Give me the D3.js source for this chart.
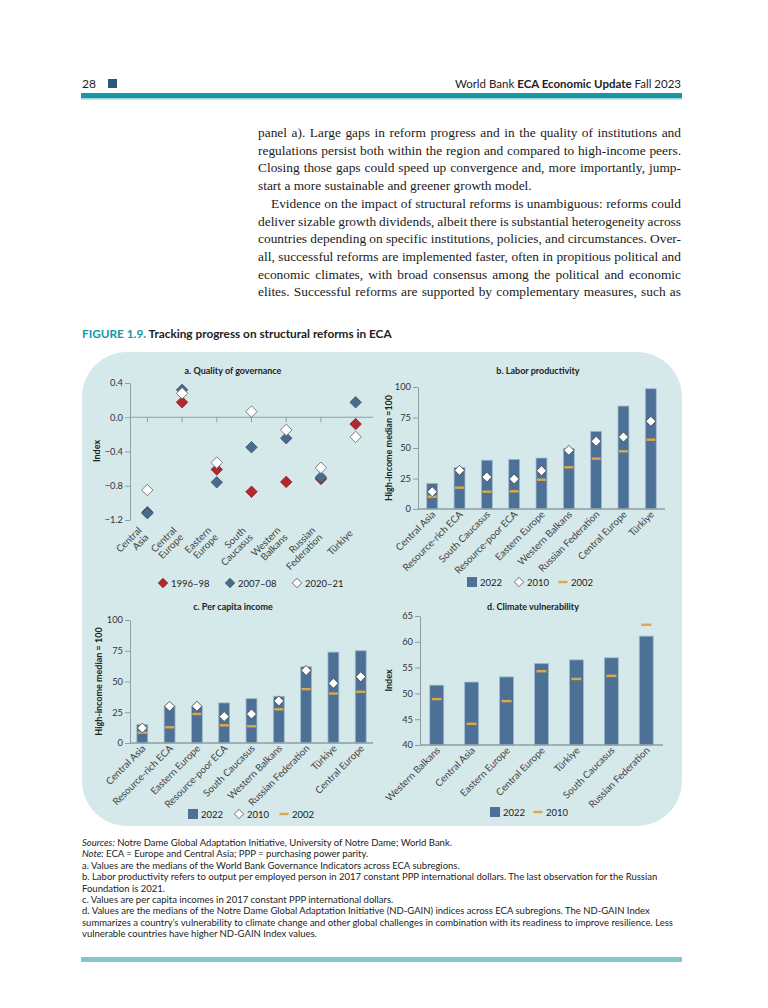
<!DOCTYPE html>
<html>
<head>
<meta charset="utf-8">
<script src="https://cdn.jsdelivr.net/npm/d3@7"></script>
<style>
  body { margin: 0; background: #fff; }
  svg { display: block; }
</style>
</head>
<body>
<svg id="page"></svg>
<script>
// ---- data ----
var govCategories = ["Central Asia", "Central Europe", "Eastern Europe", "South Caucasus", "Western Balkans", "Russian Federation", "Türkiye"];
var gov1996 = [-1.11, 0.175, -0.61, -0.87, -0.755, -0.72, -0.08];
var gov2007 = [-1.12, 0.32, -0.76, -0.35, -0.245, -0.70, 0.175];
var gov2020 = [-0.85, 0.28, -0.53, 0.066, -0.148, -0.59, -0.23];
var govTicks = [0.4, 0.0, -0.4, -0.8, -1.2];

var laborCategories = ["Central Asia", "Resource-rich ECA", "South Caucasus", "Resource-poor ECA", "Eastern Europe", "Western Balkans", "Russian Federation", "Central Europe", "Türkiye"];
var labor2022 = [21, 34, 40, 40.7, 41.8, 49.5, 63.7, 84.4, 98.6];
var labor2010 = [14.2, 31.7, 26.2, 24.6, 31.4, 48.1, 55.5, 59, 71.9];
var labor2002 = [10.1, 17.5, 14.2, 14.5, 24, 34.2, 41.3, 47.3, 56.8];

var incomeCategories = ["Central Asia", "Resource-rich ECA", "Eastern Europe", "Resource-poor ECA", "South Caucasus", "Western Balkans", "Russian Federation", "Türkiye", "Central Europe"];
var income2022 = [15, 30, 29.5, 32.6, 36.1, 38, 62, 73.9, 75];
var income2010 = [12.2, 29.9, 29.9, 21.5, 23.6, 34.2, 59, 48.6, 53.8];
var income2002 = [8.4, 12.8, 23.6, 14.4, 13.6, 27.4, 43.8, 40.2, 41.6];

var indexTicks = [0, 25, 50, 75, 100];

var climateCategories = ["Western Balkans", "Central Asia", "Eastern Europe", "Central Europe", "Türkiye", "South Caucasus", "Russian Federation"];
var climate2022 = [51.6, 52.2, 53.2, 55.8, 56.5, 56.9, 61.1];
var climate2010 = [48.9, 44.1, 48.5, 54.3, 52.8, 53.4, 63.3];
var climateTicks = [40, 45, 50, 55, 60, 65];

var bodyLines = [
  ["panel a). Large gaps in reform progress and in the quality of institutions and", true, 0],
  ["regulations persist both within the region and compared to high-income peers.", true, 0],
  ["Closing those gaps could speed up convergence and, more importantly, jump-", true, 0],
  ["start a more sustainable and greener growth model.", false, 0],
  ["Evidence on the impact of structural reforms is unambiguous: reforms could", true, 13],
  ["deliver sizable growth dividends, albeit there is substantial heterogeneity across", true, 0],
  ["countries depending on specific institutions, policies, and circumstances. Over-", true, 0],
  ["all, successful reforms are implemented faster, often in propitious political and", true, 0],
  ["economic climates, with broad consensus among the political and economic", true, 0],
  ["elites. Successful reforms are supported by complementary measures, such as", true, 0]
];

var noteLines = [
  [["Sources:", "italic"], [" Notre Dame Global Adaptation Initiative, University of Notre Dame; World Bank.", ""]],
  [["Note:", "italic"], [" ECA = Europe and Central Asia; PPP = purchasing power parity.", ""]],
  [["a. Values are the medians of the World Bank Governance Indicators across ECA subregions.", ""]],
  [["b. Labor productivity refers to output per employed person in 2017 constant PPP international dollars. The last observation for the Russian", ""]],
  [["Foundation is 2021.", ""]],
  [["c. Values are per capita incomes in 2017 constant PPP international dollars.", ""]],
  [["d. Values are the medians of the Notre Dame Global Adaptation Initiative (ND-GAIN) indices across ECA subregions. The ND-GAIN Index", ""]],
  [["summarizes a country\u2019s vulnerability to climate change and other global challenges in combination with its readiness to improve resilience. Less", ""]],
  [["vulnerable countries have higher ND-GAIN Index values.", ""]]
];

// ---- styles ----
var sans = "Lato, 'Noto Sans', sans-serif";
var barBlue = "#4d7096", red = "#b3282e", orange = "#e0a748", teal = "#1797a4";

var svg = d3.select("#page").attr("width", 768).attr("height", 1008);
svg.append("rect").attr("width", 768).attr("height", 1008).attr("fill", "#fff");

// ---- running header ----
svg.append("text").attr("x", 82).attr("y", 88).attr("font-family", sans)
  .attr("font-size", 12).attr("fill", "#222").text("28");
svg.append("rect").attr("x", 108).attr("y", 79).attr("width", 9).attr("height", 9).attr("fill", "#2e5877");
var hdr = svg.append("text").attr("x", 681).attr("y", 88).attr("text-anchor", "end")
  .attr("font-family", sans).attr("font-size", 11.5).attr("fill", "#222");
hdr.append("tspan").text("World Bank ");
hdr.append("tspan").attr("font-weight", "bold").text("ECA Economic Update");
hdr.append("tspan").text(" Fall 2023");
svg.append("rect").attr("x", 81).attr("y", 93).attr("width", 601).attr("height", 5).attr("fill", teal);
svg.append("rect").attr("x", 81).attr("y", 98).attr("width", 601).attr("height", 1.5).attr("fill", "#9fd3d8");

// ---- body text, justified line by line ----
var body = svg.append("g").attr("font-family", "'Liberation Serif', 'DejaVu Serif', serif")
  .attr("font-size", 13.4).attr("fill", "#1a1a1a");
bodyLines.forEach(function(ln, i) {
  var t = body.append("text").attr("x", 258 + ln[2]).attr("y", 137 + i * 17.7).text(ln[0]);
  if (ln[1]) {
    var w = t.node().getComputedTextLength();
    var spaces = (ln[0].match(/ /g) || []).length;
    t.style("word-spacing", ((423 - ln[2] - w) / spaces) + "px");
  }
});

// ---- figure title ----
var ft = svg.append("text").attr("x", 82).attr("y", 338).attr("font-family", sans)
  .attr("font-size", 11.8).attr("font-weight", "bold");
ft.append("tspan").attr("fill", teal).text("FIGURE 1.9. ");
ft.append("tspan").attr("fill", "#222").text("Tracking progress on structural reforms in ECA");

// ---- panel background ----
svg.append("rect").attr("x", 82).attr("y", 352).attr("width", 600).attr("height", 474)
  .attr("rx", 45).attr("ry", 45).attr("fill", "#d5e9eb");

function diamond(size) {
  return d3.symbol().type(d3.symbolSquare).size(size)();
}

function panelTitle(x, y, txt) {
  svg.append("text").attr("x", x).attr("y", y).attr("text-anchor", "middle")
    .attr("font-family", sans).attr("font-size", 9).attr("font-weight", "bold")
    .attr("fill", "#222").text(txt);
}

function yAxisLabel(x, y, txt) {
  svg.append("text").attr("transform", "translate(" + x + "," + y + ") rotate(-90)")
    .attr("text-anchor", "middle").attr("font-family", sans).attr("font-size", 9)
    .attr("font-weight", "bold").attr("fill", "#222").text(txt);
}

function drawYAxis(g, y, ticks, fmt, x0) {
  var ax = g.append("g").attr("transform", "translate(" + x0 + ",0)")
    .call(d3.axisLeft(y).tickValues(ticks).tickFormat(fmt).tickSize(5).tickSizeOuter(0));
  ax.select(".domain").attr("stroke", "#8e9ea3");
  ax.selectAll(".tick line").attr("stroke", "#8e9ea3");
  ax.selectAll(".tick text").attr("font-family", sans).attr("font-size", 9.3).attr("fill", "#333").attr("x", -7);
}

function rotatedLabels(g, x, cats, y0) {
  g.selectAll(".cat").data(cats).enter().append("text")
    .attr("class", "cat")
    .attr("transform", function(d) { return "translate(" + (x(d) + x.bandwidth() / 2 + 4) + "," + y0 + ") rotate(-45)"; })
    .attr("text-anchor", "end").attr("font-family", sans).attr("font-size", 9.8)
    .attr("fill", "#444").text(function(d) { return d; });
}

// legend helper: items [type, label, x]
function legend(y, items) {
  items.forEach(function(it) {
    var g = svg.append("g").attr("transform", "translate(" + it[2] + "," + y + ")");
    if (it[0] === "square") {
      g.append("rect").attr("x", -5).attr("y", -5).attr("width", 10).attr("height", 10).attr("fill", barBlue);
    } else if (it[0] === "dash") {
      g.append("rect").attr("x", -4.5).attr("y", -1.2).attr("width", 9).attr("height", 2.4).attr("fill", orange);
    } else {
      g.append("path").attr("d", diamond(44)).attr("transform", "rotate(45)")
        .attr("fill", it[3]).attr("stroke", it[4]).attr("stroke-width", 0.8);
    }
    g.append("text").attr("x", 8).attr("y", 3.5).attr("font-family", sans).attr("font-size", 9.5)
      .attr("fill", "#222").text(it[1]);
  });
}

// ---- panel a: quality of governance ----
(function() {
  var g = svg.append("g");
  var x = d3.scalePoint().domain(govCategories).range([130, 373]).padding(0.5);
  var y = d3.scaleLinear().domain([-1.2, 0.4]).range([520, 383]);
  panelTitle(233, 374, "a. Quality of governance");
  yAxisLabel(100, 451, "Index");
  drawYAxis(g, y, govTicks, d3.format(".1f"), 130);

  g.append("line").attr("x1", 130).attr("x2", 373).attr("y1", y(0)).attr("y2", y(0))
    .attr("stroke", "#8e9ea3");
  g.selectAll(".xt").data(govCategories).enter().append("line")
    .attr("x1", function(d) { return x(d); }).attr("x2", function(d) { return x(d); })
    .attr("y1", y(0)).attr("y2", y(0) + 5).attr("stroke", "#8e9ea3");

  var series = [[gov1996, red, "#8a1d22"], [gov2007, "#4b6b8c", "#35526f"], [gov2020, "#fff", "#555"]];
  series.forEach(function(s) {
    g.selectAll(null).data(govCategories).enter().append("path")
      .attr("d", diamond(66))
      .attr("transform", function(d, i) { return "translate(" + x(d) + "," + y(s[0][i]) + ") rotate(45)"; })
      .attr("fill", s[1]).attr("stroke", s[2]).attr("stroke-width", 0.7);
  });

  g.selectAll(".cat").data(govCategories).enter().append("text")
    .attr("transform", function(d) { return "translate(" + (x(d) - 5) + ",531) rotate(-45)"; })
    .attr("text-anchor", "end").attr("font-family", sans).attr("font-size", 9.8).attr("fill", "#444")
    .each(function(d) {
      var parts = d.split(" "), t = d3.select(this);
      if (parts.length === 1) {
        t.append("tspan").attr("x", 0).attr("y", 4).text(d);
      } else {
        parts.forEach(function(p, k) { t.append("tspan").attr("x", 0).attr("y", k * 9.8).text(p); });
      }
    });

  legend(583, [["diamond", "1996\u201398", 163, red, "#8a1d22"], ["diamond", "2007\u201308", 230, "#4b6b8c", "#35526f"], ["diamond", "2020\u201321", 297, "#fff", "#555"]]);
})();

// ---- bar panels (b, c, d) ----
function barPanel(opts) {
  var g = svg.append("g");
  var x = d3.scaleBand().domain(opts.cats).range(opts.xr).paddingInner(0.6).paddingOuter(opts.po);
  var y = d3.scaleLinear().domain(opts.yd).range(opts.yr);
  panelTitle(opts.titleX, opts.titleY, opts.title);
  yAxisLabel(opts.labelX, (opts.yr[0] + opts.yr[1]) / 2, opts.label);
  drawYAxis(g, y, opts.ticks, d3.format("d"), opts.xr[0]);

  g.selectAll(".bar").data(opts.cats).enter().append("rect")
    .attr("x", function(d) { return x(d); })
    .attr("width", x.bandwidth())
    .attr("y", function(d, i) { return y(opts.bars[i]); })
    .attr("height", function(d, i) { return opts.yr[0] - y(opts.bars[i]); })
    .attr("fill", barBlue).attr("stroke", "#9dbcd0").attr("stroke-width", 0.8);

  g.append("line").attr("x1", opts.xr[0]).attr("x2", opts.xr[1]).attr("y1", opts.yr[0]).attr("y2", opts.yr[0])
    .attr("stroke", "#8e9ea3").attr("stroke-width", 1.5);

  g.selectAll(".dash").data(opts.cats).enter().append("rect")
    .attr("x", function(d) { return x(d) + x.bandwidth() / 2 - opts.dashW / 2; })
    .attr("width", opts.dashW)
    .attr("y", function(d, i) { return y(opts.dashes[i]) - 1.2; })
    .attr("height", 2.4).attr("fill", orange);

  if (opts.diamonds) {
    g.selectAll(".dia").data(opts.cats).enter().append("path")
      .attr("d", diamond(50))
      .attr("transform", function(d, i) { return "translate(" + (x(d) + x.bandwidth() / 2) + "," + y(opts.diamonds[i]) + ") rotate(45)"; })
      .attr("fill", "#fff").attr("stroke", "#444").attr("stroke-width", 0.8);
  }
  rotatedLabels(g, x, opts.cats, opts.yr[0] + 6);
}

barPanel({
  cats: laborCategories, bars: labor2022, diamonds: labor2010, dashes: labor2002,
  xr: [418, 665], po: 0.32, yd: [0, 100], yr: [509, 387], ticks: indexTicks, dashW: 9,
  title: "b. Labor productivity", titleX: 538, titleY: 374, label: "High-income median =100", labelX: 392
});
legend(582, [["square", "2022", 472], ["diamond", "2010", 519, "#fff", "#555"], ["dash", "2002", 563]]);

barPanel({
  cats: incomeCategories, bars: income2022, diamonds: income2010, dashes: income2002,
  xr: [130, 373], po: 0.25, yd: [0, 100], yr: [743, 620], ticks: indexTicks, dashW: 9,
  title: "c. Per capita income", titleX: 233, titleY: 610, label: "High-income median = 100", labelX: 102
});
legend(814, [["square", "2022", 193], ["diamond", "2010", 239, "#fff", "#555"], ["dash", "2002", 284]]);

barPanel({
  cats: climateCategories, bars: climate2022, diamonds: null, dashes: climate2010,
  xr: [420, 663], po: 0.28, yd: [40, 65], yr: [745, 616], ticks: climateTicks, dashW: 10,
  title: "d. Climate vulnerability", titleX: 533, titleY: 610, label: "Index", labelX: 392
});
legend(812, [["square", "2022", 495], ["dash", "2010", 538]]);

// ---- notes ----
var notes = svg.append("g").attr("font-family", sans).attr("font-size", 9.5).attr("fill", "#222");
noteLines.forEach(function(ln, i) {
  var t = notes.append("text").attr("x", 82).attr("y", 846 + i * 11.4);
  ln.forEach(function(part) {
    var s = t.append("tspan").text(part[0]);
    if (part[1] === "italic") s.attr("font-style", "italic");
  });
});

svg.append("rect").attr("x", 81).attr("y", 957).attr("width", 601).attr("height", 5).attr("fill", "#86c5ca");
</script>
</body>
</html>
